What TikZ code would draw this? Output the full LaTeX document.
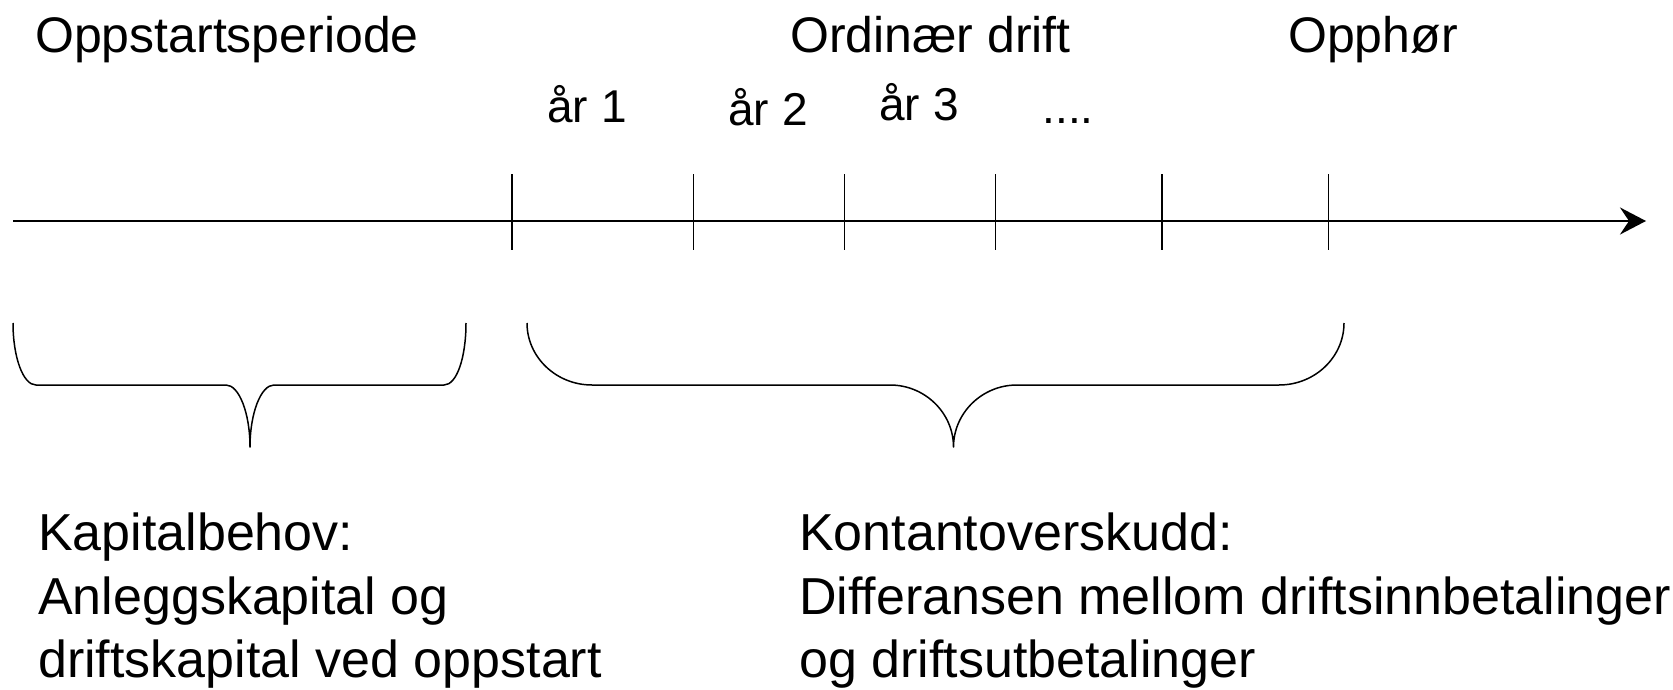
\documentclass[tikz,border=0pt]{standalone}
\usepackage{fontspec}
\setmainfont{Liberation Sans}
\usetikzlibrary{arrows.meta}

\tikzset{
  hdr/.style={font=\fontsize{50}{60}\selectfont, inner sep=0pt, anchor=base west},
  yr/.style={font=\fontsize{46}{54}\selectfont, inner sep=0pt, anchor=base},
  note/.style={font=\fontsize{52}{63.5}\selectfont, inner sep=0pt, align=left, anchor=north west},
  axisline/.style={line width=2.6pt, -{Stealth[length=26pt, width=27pt, inset=9pt]}},
  tick/.style={line width=1.5pt},
  brace/.style={line width=1.5pt, line join=round},
}

\begin{document}
\begin{tikzpicture}[x=1pt, y=-1pt]
  % canvas
  \fill[white] (0,0) rectangle (1673,690);
  \useasboundingbox (0,0) rectangle (1673,690);

  % period headings
  \node[hdr] (oppstart) at (35,53) {Oppstartsperiode};
  \node[hdr] (ordinaer) at (790,53) {Ordinær drift};
  \node[hdr] (opphor)   at (1288,53) {Opphør};

  % year labels
  \node[yr] (aar1) at (587,123) {år 1};
  \node[yr] (aar2) at (768,126) {år 2};
  \node[yr] (aar3) at (919,121) {år 3};
  \node[yr] (aarn) at (1068,124) {....};

  % time axis
  \coordinate (tstart) at (13,221);
  \coordinate (tend)   at (1646,221);
  \draw[axisline] (tstart) -- (tend);

  % year ticks
  \foreach \x in {512,693.5,844.5,995.5,1162,1328.5}
    \draw[tick] (\x,174) -- (\x,250);

  % brace under the start-up period
  \draw[brace] (13,323) .. controls (13,357) and (23,385) .. (36,385)
    -- (226,385) .. controls (239,385) and (250,413) .. (250,447)
    .. controls (250,413) and (261,385) .. (274,385)
    -- (444,385) .. controls (457,385) and (466,357) .. (466,323);

  % brace under ordinary operation
  \draw[brace] (527,323) .. controls (527,357) and (556,385) .. (592,385)
    -- (890,385) .. controls (925,385) and (953.5,413) .. (953.5,447)
    .. controls (953.5,413) and (982,385) .. (1017,385)
    -- (1279,385) .. controls (1315,385) and (1344,357) .. (1344,323);

  % explanations
  \node[note] (kapital) at (38,513) {Kapitalbehov:\\Anleggskapital og\\driftskapital ved oppstart};
  \node[note] (kontant) at (799,513) {Kontantoverskudd:\\Differansen mellom driftsinnbetalinger\\og driftsutbetalinger};
\end{tikzpicture}
\end{document}
